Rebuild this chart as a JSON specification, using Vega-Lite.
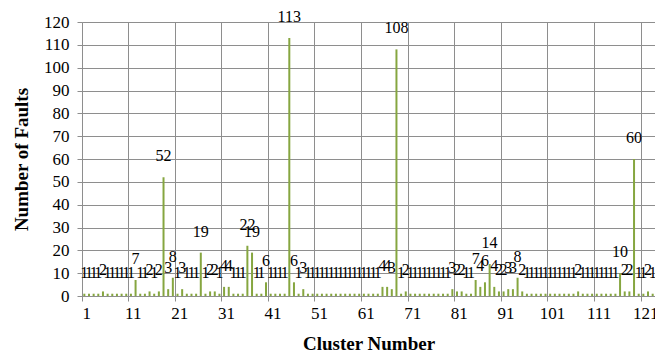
{
  "$schema": "https://vega.github.io/schema/vega-lite/v6.json",
  "width": 573,
  "height": 274,
  "autosize": "none",
  "padding": {"left": 82, "top": 22, "right": 0, "bottom": 62},
  "background": "white",
  "config": {
    "view": {"stroke": null},
    "font": "Times New Roman, Liberation Serif, serif",
    "axis": {
      "domainColor": "#8E8E8E",
      "tickColor": "#8E8E8E",
      "gridColor": "#8E8E8E",
      "gridWidth": 1,
      "domainWidth": 1,
      "tickWidth": 1,
      "tickSize": 5,
      "labelFont": "Times New Roman, Liberation Serif, serif",
      "labelFontSize": 17,
      "labelColor": "black",
      "titleFont": "Times New Roman, Liberation Serif, serif",
      "titleFontSize": 19,
      "titleFontWeight": "bold",
      "titleColor": "black"
    }
  },
  "data": {
    "values": [
      {"c": 1, "v": 1}, {"c": 2, "v": 1}, {"c": 3, "v": 1}, {"c": 4, "v": 1}, {"c": 5, "v": 2},
      {"c": 6, "v": 1}, {"c": 7, "v": 1}, {"c": 8, "v": 1}, {"c": 9, "v": 1}, {"c": 10, "v": 1},
      {"c": 11, "v": 1}, {"c": 12, "v": 7}, {"c": 13, "v": 1}, {"c": 14, "v": 1}, {"c": 15, "v": 2},
      {"c": 16, "v": 1}, {"c": 17, "v": 2}, {"c": 18, "v": 52}, {"c": 19, "v": 3}, {"c": 20, "v": 8},
      {"c": 21, "v": 1}, {"c": 22, "v": 3}, {"c": 23, "v": 1}, {"c": 24, "v": 1}, {"c": 25, "v": 1},
      {"c": 26, "v": 19}, {"c": 27, "v": 1}, {"c": 28, "v": 2}, {"c": 29, "v": 2}, {"c": 30, "v": 1},
      {"c": 31, "v": 4}, {"c": 32, "v": 4}, {"c": 33, "v": 1}, {"c": 34, "v": 1}, {"c": 35, "v": 1},
      {"c": 36, "v": 22}, {"c": 37, "v": 19}, {"c": 38, "v": 1}, {"c": 39, "v": 1}, {"c": 40, "v": 6},
      {"c": 41, "v": 1}, {"c": 42, "v": 1}, {"c": 43, "v": 1}, {"c": 44, "v": 1}, {"c": 45, "v": 113},
      {"c": 46, "v": 6}, {"c": 47, "v": 1}, {"c": 48, "v": 3}, {"c": 49, "v": 1}, {"c": 50, "v": 1},
      {"c": 51, "v": 1}, {"c": 52, "v": 1}, {"c": 53, "v": 1}, {"c": 54, "v": 1}, {"c": 55, "v": 1},
      {"c": 56, "v": 1}, {"c": 57, "v": 1}, {"c": 58, "v": 1}, {"c": 59, "v": 1}, {"c": 60, "v": 1},
      {"c": 61, "v": 1}, {"c": 62, "v": 1}, {"c": 63, "v": 1}, {"c": 64, "v": 1}, {"c": 65, "v": 4},
      {"c": 66, "v": 4}, {"c": 67, "v": 3}, {"c": 68, "v": 108}, {"c": 69, "v": 1}, {"c": 70, "v": 2},
      {"c": 71, "v": 1}, {"c": 72, "v": 1}, {"c": 73, "v": 1}, {"c": 74, "v": 1}, {"c": 75, "v": 1},
      {"c": 76, "v": 1}, {"c": 77, "v": 1}, {"c": 78, "v": 1}, {"c": 79, "v": 1}, {"c": 80, "v": 3},
      {"c": 81, "v": 2}, {"c": 82, "v": 2}, {"c": 83, "v": 1}, {"c": 84, "v": 1}, {"c": 85, "v": 7},
      {"c": 86, "v": 4}, {"c": 87, "v": 6}, {"c": 88, "v": 14}, {"c": 89, "v": 4}, {"c": 90, "v": 2},
      {"c": 91, "v": 2}, {"c": 92, "v": 3}, {"c": 93, "v": 3}, {"c": 94, "v": 8}, {"c": 95, "v": 2},
      {"c": 96, "v": 1}, {"c": 97, "v": 1}, {"c": 98, "v": 1}, {"c": 99, "v": 1}, {"c": 100, "v": 1},
      {"c": 101, "v": 1}, {"c": 102, "v": 1}, {"c": 103, "v": 1}, {"c": 104, "v": 1}, {"c": 105, "v": 1},
      {"c": 106, "v": 1}, {"c": 107, "v": 2}, {"c": 108, "v": 1}, {"c": 109, "v": 1}, {"c": 110, "v": 1},
      {"c": 111, "v": 1}, {"c": 112, "v": 1}, {"c": 113, "v": 1}, {"c": 114, "v": 1}, {"c": 115, "v": 1},
      {"c": 116, "v": 10}, {"c": 117, "v": 2}, {"c": 118, "v": 2}, {"c": 119, "v": 60}, {"c": 120, "v": 1},
      {"c": 121, "v": 1}, {"c": 122, "v": 2}, {"c": 123, "v": 1}
    ]
  },
  "encoding": {
    "x": {
      "field": "c",
      "type": "ordinal",
      "scale": {"paddingInner": 0, "paddingOuter": 0},
      "axis": {
        "title": "Cluster Number",
        "values": [1, 11, 21, 31, 41, 51, 61, 71, 81, 91, 101, 111, 121],
        "labelAngle": 0,
        "bandPosition": 0,
        "labelOffset": 2.3,
        "grid": true,
        "labelPadding": 4,
        "titlePadding": 13
      }
    },
    "y": {
      "field": "v",
      "type": "quantitative",
      "scale": {"domain": [0, 120], "nice": false},
      "axis": {
        "title": "Number of  Faults",
        "values": [0, 10, 20, 30, 40, 50, 60, 70, 80, 90, 100, 110, 120],
        "grid": true,
        "labelPadding": 8,
        "titlePadding": 12
      }
    }
  },
  "layer": [
    {
      "mark": {"type": "bar", "width": 2, "color": "#86A640"}
    },
    {
      "mark": {
        "type": "text",
        "dy": -21,
        "baseline": "middle",
        "align": "center",
        "font": "Times New Roman, Liberation Serif, serif",
        "fontSize": 16,
        "color": "black"
      },
      "encoding": {"text": {"field": "v", "type": "quantitative"}}
    }
  ]
}
